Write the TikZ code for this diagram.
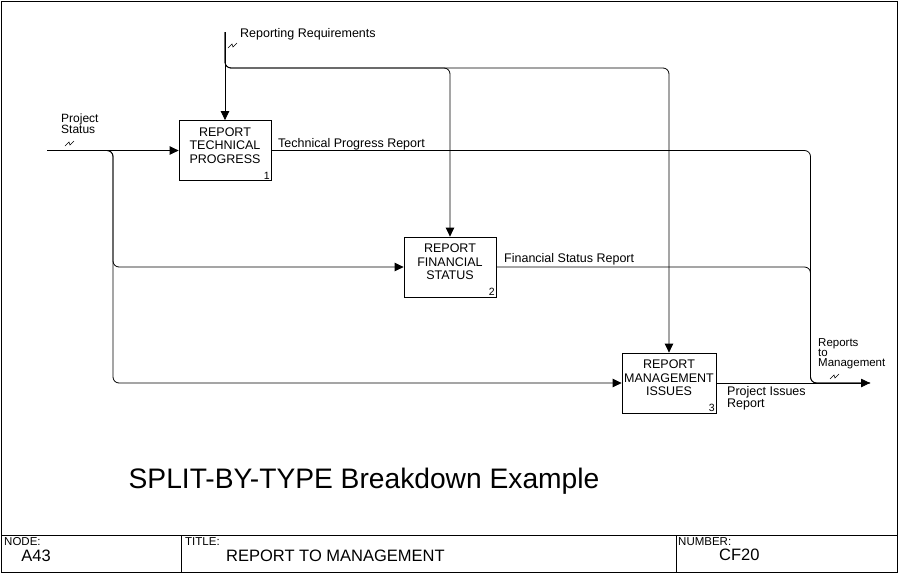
\documentclass[tikz,border=0pt]{standalone}
\usepackage{fontspec}
\setmainfont{Liberation Sans}
\usetikzlibrary{arrows.meta}
\begin{document}
\begin{tikzpicture}[x=1pt,y=-1pt,
	act/.style={ draw, line width=0.8pt, minimum width=92pt, minimum height=60pt, inner sep=0pt },
	acttext/.style={ align=center, inner sep=0pt, font=\fontsize{12.5}{13.6}\selectfont },
	actnum/.style={ anchor=south east, inner sep=1.5pt, font=\fontsize{10.5}{10.5}\selectfont },
	lbl/.style={ align=left, inner sep=0pt, font=\fontsize{12.5}{12}\selectfont },
	flow/.style={ line width=0.8pt, rounded corners=6pt },
	arr/.style={ flow, -{Triangle[length=9pt,width=8.5pt]} },
	squig/.style={ line width=0.6pt },
	foot/.style={ inner sep=0pt, font=\fontsize{11.5}{11.5}\selectfont },
	footval/.style={ inner sep=0pt, font=\fontsize{16.5}{16.5}\selectfont }
]
\useasboundingbox (0,0) rectangle (900,574);

% frame and footer
\draw[line width=0.8pt] (1,1) rectangle (897,572);
\draw[line width=0.8pt] (1,535) -- (897,535);
\foreach \x in {181,676} \draw[line width=0.8pt] (\x,535) -- (\x,572);

% activities
\node at (225,150.5) (act1) [act] {};
\node at ([yshift=5pt]act1.center) (act1t) [acttext] {REPORT\\TECHNICAL\\PROGRESS};
\node at (act1.south east) (act1n) [actnum] {1};

\node at (450,267) (act2) [act] {};
\node at ([yshift=5pt]act2.center) (act2t) [acttext] {REPORT\\FINANCIAL\\STATUS};
\node at (act2.south east) (act2n) [actnum] {2};

\node at (669,383) (act3) [act, minimum width=94pt] {};
\node at ([yshift=5pt]act3.center) (act3t) [acttext] {REPORT\\MANAGEMENT\\ISSUES};
\node at (act3.south east) (act3n) [actnum] {3};

% arrow ends
\coordinate (rrin) at (225,32);
\coordinate (rrsplit) at (225,68);
\coordinate (psin) at (47,150.5);
\coordinate (pssplit) at (113,150.5);
\coordinate (rmjoin) at (810.5,383);
\coordinate (rmout) at (870,383);

% controls
\draw[arr] (rrin) -- (act1.north);
\foreach \a in {act2,act3} \draw[arr] (rrin) -- (rrsplit) -| (\a.north);

% inputs
\draw[arr] (psin) -- (act1.west);
\draw[arr] (psin) -- (pssplit) |- (act2.west);
\draw[arr] (psin) -- (pssplit) |- (act3.west);

% outputs
\foreach \a in {act1,act2} \draw[flow] (\a.east) -| (rmjoin) -- (rmout);
\draw[arr] (act3.east) -- (rmout);

% labels
\node at (240,37) (rrlbl) [lbl, anchor=base west] {Reporting Requirements};
\node at (61,114) (pslbl) [lbl, anchor=north west, font=\fontsize{12}{11}\selectfont] {Project\\Status};
\node at (278,147) (tplbl) [lbl, anchor=base west] {Technical Progress Report};
\node at (504,262) (fslbl) [lbl, anchor=base west] {Financial Status Report};
\node at (727,386) (pilbl) [lbl, anchor=north west] {Project Issues\\Report};
\node at (818,338) (rmlbl) [lbl, anchor=north west, font=\fontsize{11.5}{10.2}\selectfont] {Reports\\to\\Management};

\foreach \p in {(233,45),(70,143),(835,376)}
	\draw[squig] \p ++(-5,3) -- ++(4,-4) -- ++(1,3) -- ++(4,-4);

% title
\node at (364,481) (title) [inner sep=0pt, font=\fontsize{28.2}{30}\selectfont] {SPLIT-BY-TYPE Breakdown Example};

% footer text
\node at (4,537) (fnode) [foot, anchor=north west] {NODE:};
\node at (36,556) (fnodev) [footval] {A43};
\node at (185,537) (ftitle) [foot, anchor=north west] {TITLE:};
\node at (226,556) (ftitlev) [footval, anchor=west] {REPORT TO MANAGEMENT};
\node at (678,537) (fnum) [foot, anchor=north west] {NUMBER:};
\node at (719,555) (fnumv) [footval, anchor=west] {CF20};

\end{tikzpicture}
\end{document}
